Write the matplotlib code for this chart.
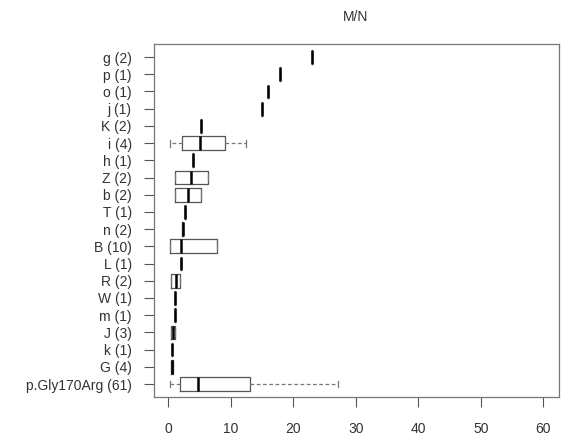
import matplotlib
matplotlib.use("Agg")
import matplotlib.pyplot as plt

# groups listed bottom to top (row 1 = bottom)
labels = ["p.Gly170Arg (61)", "G (4)", "k (1)", "J (3)", "m (1)", "W (1)", "R (2)",
          "L (1)", "B (10)", "n (2)", "T (1)", "b (2)", "Z (2)", "h (1)", "i (4)",
          "K (2)", "j (1)", "o (1)", "p (1)", "g (2)"]
med = [4.8, 0.6, 0.6, 0.8, 1.0, 1.1, 1.3, 2.1, 2.1, 2.3, 2.6, 3.2, 3.7, 4.0, 5.0,
       5.3, 15.0, 16.0, 17.9, 23.0]
q1 = [1.8, 0.5, 0.6, 0.4, 1.0, 1.1, 0.5, 2.1, 0.3, 2.25, 2.6, 1.1, 1.1, 4.0, 2.2,
      5.3, 15.0, 16.0, 17.9, 23.0]
q3 = [13.0, 0.8, 0.6, 1.1, 1.0, 1.1, 1.9, 2.1, 7.8, 2.4, 2.6, 5.3, 6.4, 4.0, 9.1,
      5.3, 15.0, 16.0, 17.9, 23.0]
whislo = [0.3, 0.5, 0.6, 0.4, 1.0, 1.1, 0.5, 2.1, 0.3, 2.25, 2.6, 1.1, 1.1, 4.0, 0.3,
          5.3, 15.0, 16.0, 17.9, 23.0]
whishi = [27.2, 0.8, 0.6, 1.1, 1.0, 1.1, 1.9, 2.1, 7.8, 2.4, 2.6, 5.3, 6.4, 4.0, 12.5,
          5.3, 15.0, 16.0, 17.9, 23.0]
xticks = [0, 10, 20, 30, 40, 50, 60]

plt.rcParams['font.family'] = ['Liberation Sans', 'DejaVu Sans']

fig = plt.figure(figsize=(5.63, 4.46), dpi=100)
ax = fig.add_axes([0.2735, 0.11, 0.7195, 0.791])

stats = []
for i in range(len(labels)):
    stats.append(dict(med=med[i], q1=q1[i], q3=q3[i], whislo=whislo[i],
                      whishi=whishi[i], fliers=[], label=labels[i]))

edge = '#555555'
ax.bxp(stats, positions=range(1, len(labels) + 1), vert=False, widths=0.8,
       showfliers=False,
       boxprops=dict(color=edge, linewidth=0.9),
       medianprops=dict(color='black', linewidth=1.8, solid_capstyle='butt'),
       whiskerprops=dict(color='#777777', linewidth=0.9, linestyle=(0, (3, 2))),
       capprops=dict(color='#777777', linewidth=0.9), capwidths=0.4)

ax.set_xlim(-2.3, 62.5)
ax.set_ylim(0.25, 20.75)
ax.set_xticks(xticks)
ax.set_xticklabels([str(t) for t in xticks])
ax.set_yticks(range(1, len(labels) + 1))
ax.set_yticklabels(labels)
ax.tick_params(axis='x', length=7, pad=11, width=0.8, color=edge, labelsize=10, labelcolor='#333333')
ax.tick_params(axis='y', length=7, pad=9, width=0.8, color=edge, labelsize=10, labelcolor='#333333')
for s in ax.spines.values():
    s.set_color('#777777')
    s.set_linewidth(0.9)

fig.text(0.632, 0.962, 'M/N', ha='center', va='center', fontsize=10, color='#333333')

fig.savefig('out.png', dpi=100, facecolor='white')
